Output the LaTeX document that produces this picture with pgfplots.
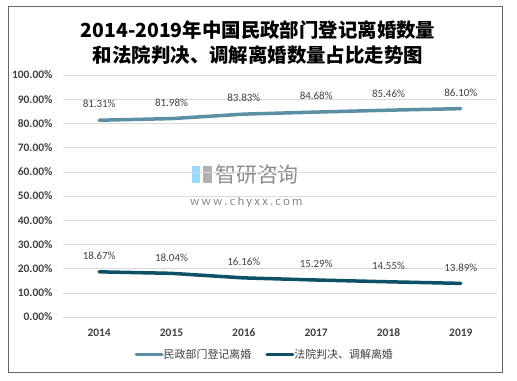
\documentclass[border=0pt]{standalone}
\usepackage{pgfplots}
\pgfplotsset{compat=1.18}
\usepackage{fontspec}
\setmainfont{Carlito}
\newfontfamily\cjk{Noto Sans CJK SC}
\definecolor{lightline}{HTML}{5B8FA6}
\definecolor{darkline}{HTML}{0D5068}
\definecolor{gridc}{HTML}{D9D9D9}
\definecolor{txt}{HTML}{404040}
\pgfplotstableread{
x civil court
0 81.31 18.67
1 81.98 18.04
2 83.83 16.16
3 84.68 15.29
4 85.46 14.55
5 86.10 13.89
}\data
\begin{document}
\begin{tikzpicture}[x=1bp,y=1bp]
\useasboundingbox (0,0) rectangle (517,380);
\draw[color=gray!80!black, line width=0.8bp] (8,8) rectangle (502,374);
\node[font=\cjk\bfseries\fontsize{19.5}{22}\selectfont, text=black, align=center] at (258,350) {2014-2019年中国民政部门登记离婚数量};
\node[font=\cjk\bfseries\fontsize{19.5}{22}\selectfont, text=black, align=center] at (258,325) {和法院判决、调解离婚数量占比走势图};
% watermark
\fill[color=blue!35!cyan!40] (192,197) rectangle (200,214);
\fill[color=gray!60] (203,197) rectangle (212,214);
\node[font=\cjk\fontsize{21}{22}\selectfont, text=gray!90, anchor=west, inner sep=0] at (215,205) {智研咨询};
\node[font=\fontsize{13}{14}\selectfont, text=gray!90, anchor=west, inner sep=0] at (190,178) {w\,w\,w\,.\,c\,h\,y\,x\,x\,.\,c\,o\,m};
\begin{axis}[
  at={(63bp,63bp)}, anchor=south west,
  scale only axis, width=434bp, height=242bp,
  xmin=-0.5, xmax=5.5, ymin=0, ymax=100,
  xtick={0,1,2,3,4,5},
  xticklabels={2014,2015,2016,2017,2018,2019},
  ytick={0,10,...,100},
  yticklabel={\pgfmathprintnumber[fixed,fixed zerofill,precision=2]{\tick}\%},
  /pgf/number format/assume math mode=true,
  ymajorgrids, grid style={gridc, line width=0.6bp},
  axis line style={draw=none},
  major tick length=0pt,
  yticklabel style={font=\bfseries\fontsize{11.5}{12}\selectfont, text=txt, xshift=-7bp},
  xticklabel style={font=\bfseries\fontsize{11.5}{12}\selectfont, text=txt, yshift=-8bp},
  legend style={at={(0.465,-0.115)}, anchor=north, draw=none, fill=none,
    legend columns=2, font=\cjk\fontsize{11}{12}\selectfont, text=txt,
    /tikz/every even column/.append style={column sep=12bp},
    /tikz/every odd column/.append style={column sep=-2bp}},
  legend image code/.code={\draw[#1, line width=3bp] (0bp,0bp) -- (26bp,0bp);},
  nodes near coords={\pgfmathprintnumber[fixed,fixed zerofill,precision=2]{\pgfplotspointmeta}\%},
  nodes near coords style={font=\fontsize{11}{12}\selectfont, text=txt, anchor=center, yshift=16bp, inner sep=0},
  clip=false,
]
\addplot[lightline, line width=3.5bp, line cap=round, no markers, point meta=explicit] table[x=x, y=civil, meta=civil] {\data};
\addlegendentry{民政部门登记离婚}
\addplot[darkline, line width=3.5bp, line cap=round, no markers, point meta=explicit] table[x=x, y=court, meta=court] {\data};
\addlegendentry{法院判决、调解离婚}
\end{axis}
\end{tikzpicture}
\end{document}
